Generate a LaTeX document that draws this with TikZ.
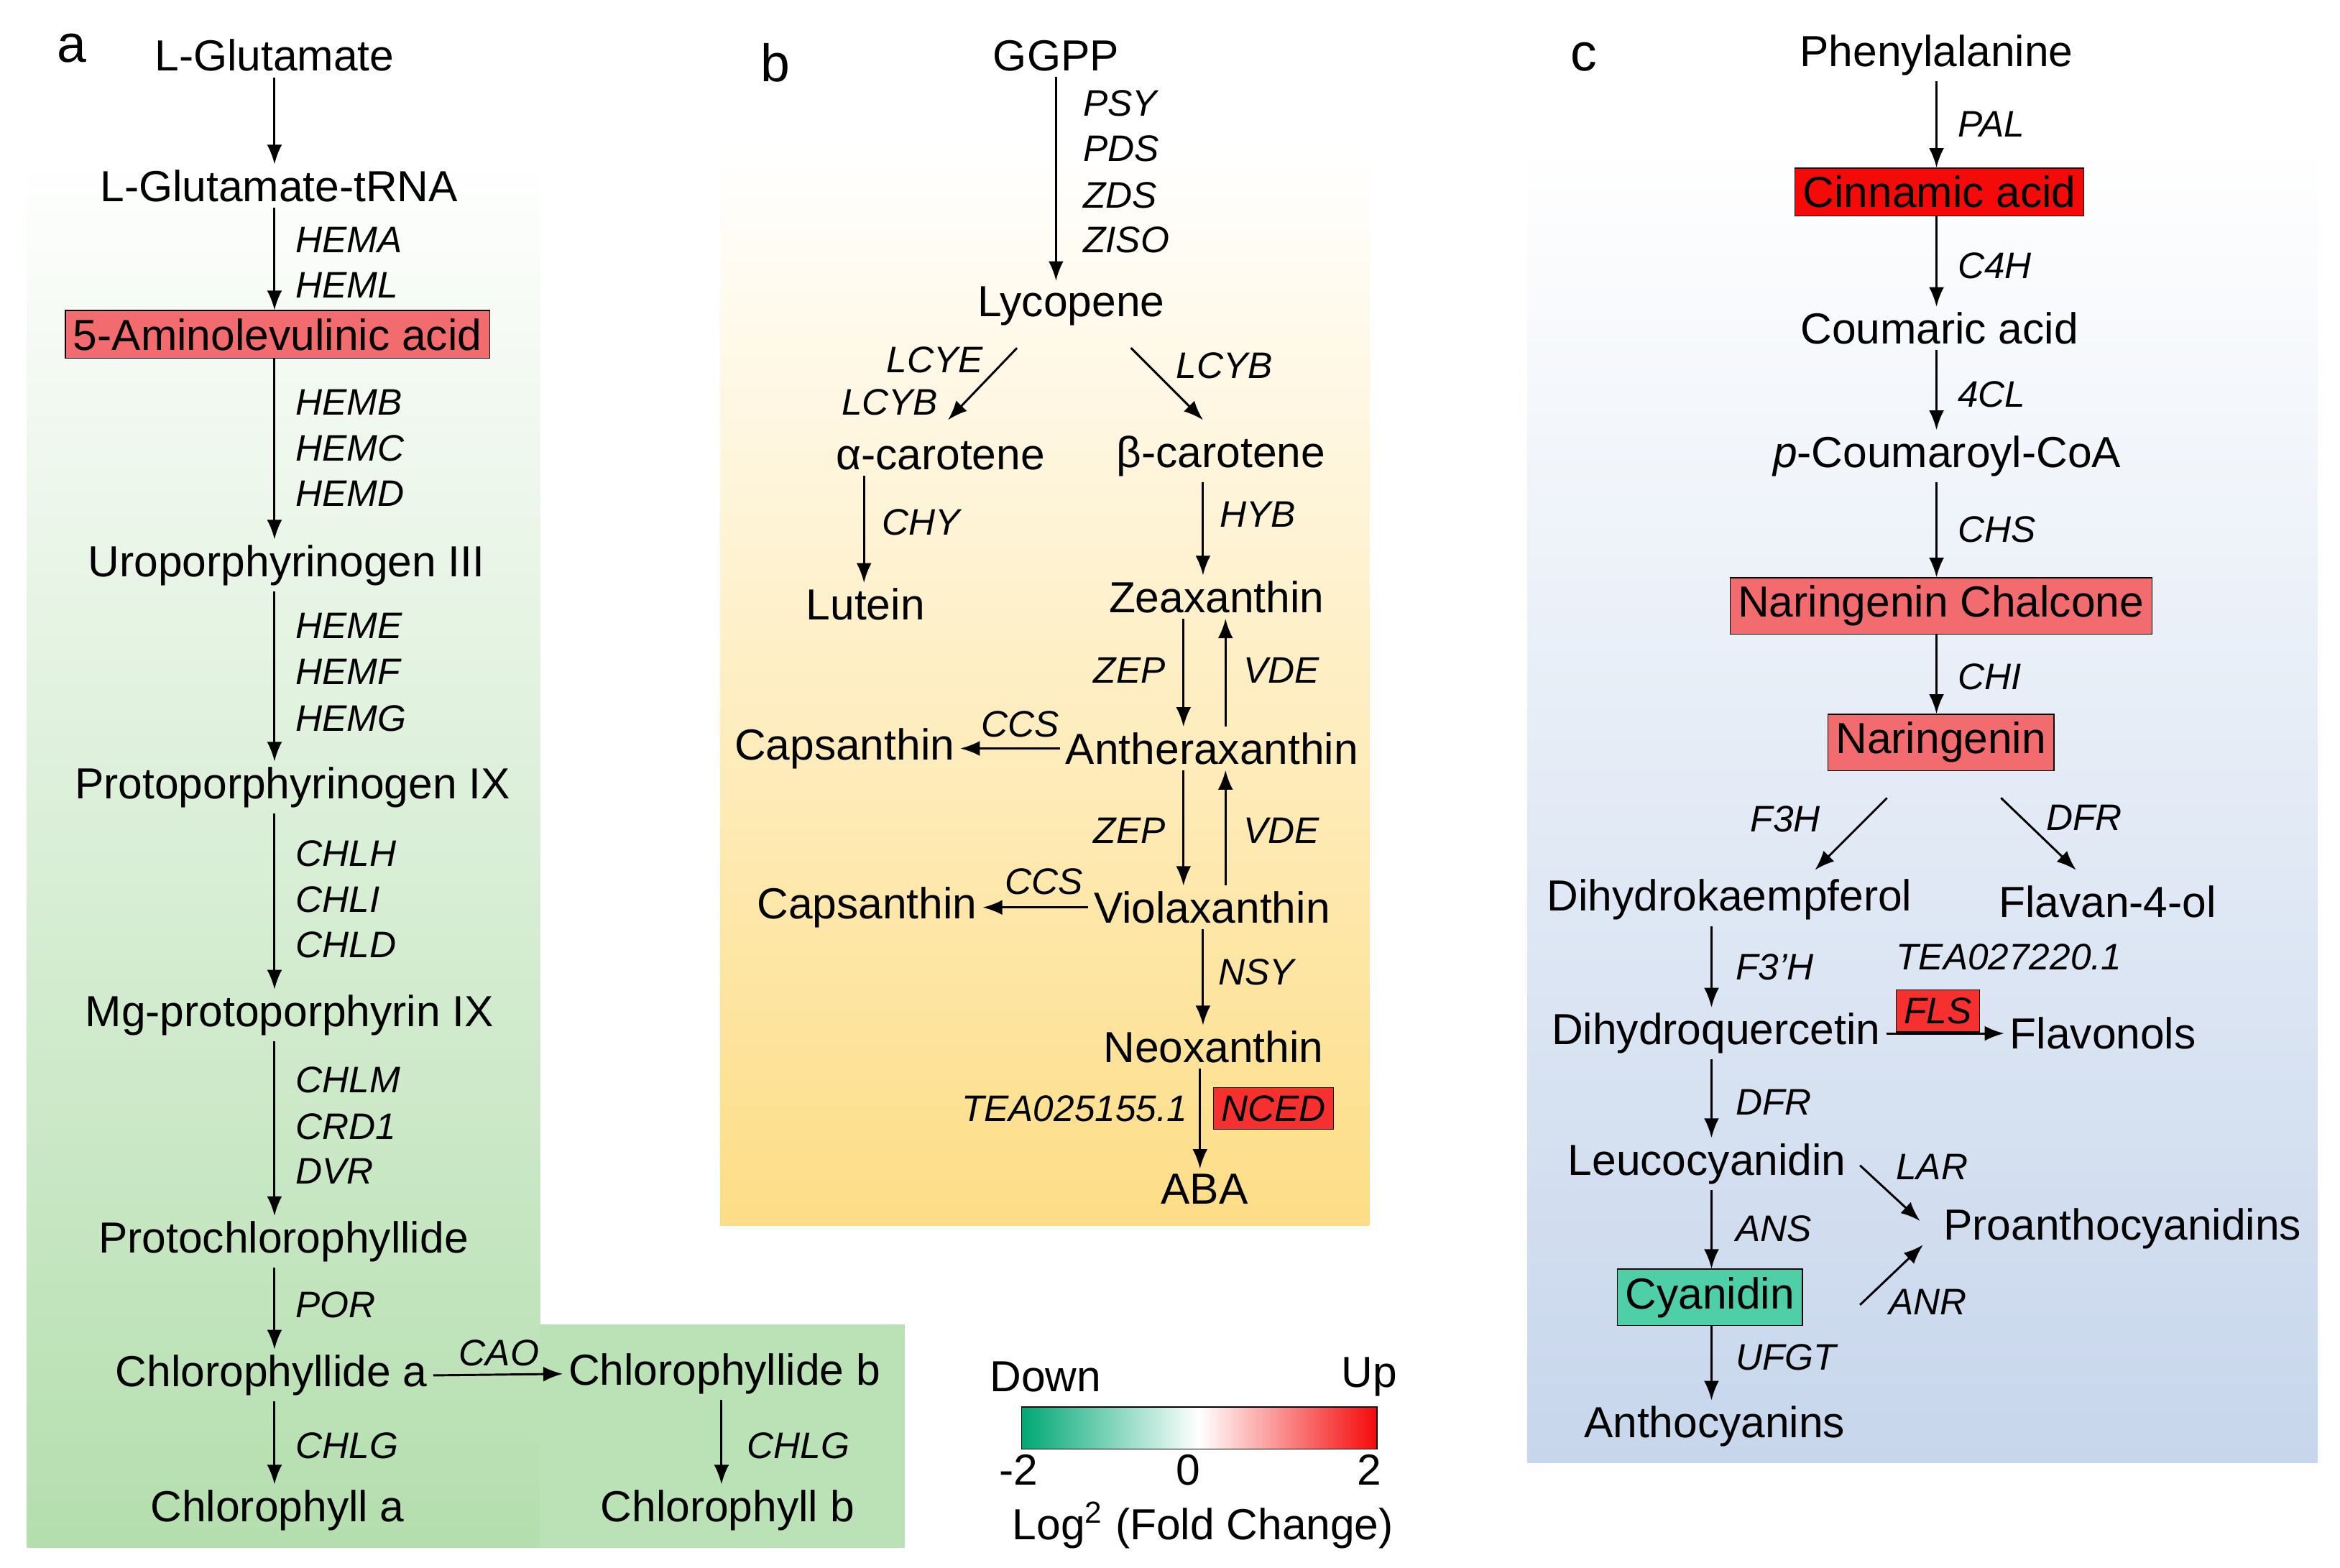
\documentclass[tikz,border=0pt]{standalone}
\usepackage{fontspec}
\setmainfont{Liberation Sans}
\usetikzlibrary{arrows.meta,positioning,calc}
\definecolor{upred}{HTML}{F26B6E}
\definecolor{hotred}{HTML}{F50A0A}
\definecolor{downgreen}{HTML}{00A874}
\definecolor{cyantile}{HTML}{4FCFA8}
\definecolor{leafgreen}{HTML}{B4DEAE}
\definecolor{sunny}{HTML}{FDDD86}
\definecolor{skyblue}{HTML}{C7D6EC}
\tikzset{
  main/.style={font=\fontsize{16.5}{18}\selectfont, inner sep=2pt},
  gene/.style={font=\fontsize{14}{16}\selectfont\itshape, inner sep=1pt, anchor=west},
  hit/.style={main, draw, fill=upred, inner sep=3pt},
  panel/.style={font=\fontsize{20}{22}\selectfont},
  arrow/.style={-{Latex[length=2.6mm,width=2mm]}, thick}
}
\begin{document}
\begin{tikzpicture}[x=0.02cm, y=-0.02cm]
\useasboundingbox (0,0) rectangle (1560,1045);

% backgrounds
\shade[top color=white, bottom color=leafgreen] (18,100) rectangle (360,1032);
\fill[leafgreen!90] (360,883) rectangle (603,1032);
\shade[top color=white, bottom color=sunny] (480,100) rectangle (913,817);
\shade[top color=white, bottom color=skyblue] (1018,95) rectangle (1545,975);

% colour bar
\shade[left color=downgreen, right color=hotred, middle color=white, shading=axis] (681,938) rectangle (918,966);
\draw (681,938) rectangle (918,966);
\node[main] (down) at (697,918) {Down};
\node[main] (up) at (913,918) {Up};
\node[main] (lo) at (679,980) {-2};
\node[main] (mid) at (792,980) {0};
\node[main] (hi) at (913,980) {2};
\node[main] (fold) at (802,1017) {Log\textsuperscript{2} (Fold Change)};

% panel a
\node[panel] (pa) at (48,32) {a};
\coordinate (colA) at (183,0);
\coordinate (colAb) at (481,0);
\node[main] (glu) at (183,37) {L-Glutamate};
\node[main] (trna) at (186,124) {L-Glutamate-tRNA};
\node[hit] (ala) at (185,223) {5-Aminolevulinic acid};
\node[main] (uro) at (191,377) {Uroporphyrinogen III};
\node[main] (proto) at (195,525) {Protoporphyrinogen IX};
\node[main] (mgp) at (193,677) {Mg-protoporphyrin IX};
\node[main] (pchl) at (189,828) {Protochlorophyllide};
\node[main] (chda) at (181,917) {Chlorophyllide a};
\node[main] (chdb) at (483,916) {Chlorophyllide b};
\node[main] (chla) at (185,1007) {Chlorophyll a};
\node[main] (chlb) at (485,1007) {Chlorophyll b};
\draw[arrow] (glu.south -| colA) -- (trna.north -| colA);
\draw[arrow] (trna.south -| colA) -- (ala.north -| colA);
\draw[arrow] (ala.south -| colA) -- (uro.north -| colA);
\draw[arrow] (uro.south -| colA) -- (proto.north -| colA);
\draw[arrow] (proto.south -| colA) -- (mgp.north -| colA);
\draw[arrow] (mgp.south -| colA) -- (pchl.north -| colA);
\draw[arrow] (pchl.south -| colA) -- (chda.north -| colA);
\draw[arrow] (chda.south -| colA) -- (chla.north -| colA);
\draw[arrow] (chdb.south -| colAb) -- (chlb.north -| colAb);
\draw[arrow] (chda.east) -- (chdb.west);
\node[gene] (hema) at (195,160) {HEMA};
\node[gene] (heml) at (195,190) {HEML};
\node[gene] (hemb) at (195,268) {HEMB};
\node[gene] (hemc) at (195,299) {HEMC};
\node[gene] (hemd) at (195,329) {HEMD};
\node[gene] (heme) at (195,417) {HEME};
\node[gene] (hemf) at (195,448) {HEMF};
\node[gene] (hemg) at (195,479) {HEMG};
\node[gene] (chlh) at (195,569) {CHLH};
\node[gene] (chli) at (195,600) {CHLI};
\node[gene] (chld) at (195,630) {CHLD};
\node[gene] (chlm) at (195,720) {CHLM};
\node[gene] (crd) at (195,751) {CRD1};
\node[gene] (dvr) at (195,781) {DVR};
\node[gene] (por) at (195,870) {POR};
\node[gene] (cao) at (304,902) {CAO};
\node[gene] (chlga) at (195,964) {CHLG};
\node[gene] (chlgb) at (496,964) {CHLG};

% panel b
\node[panel] (pb) at (517,42) {b};
\node[main] (ggpp) at (704,37) {GGPP};
\node[main] (lyc) at (714,204) {Lycopene};
\node[main] (acar) at (627,304) {α-carotene};
\node[main] (bcar) at (814,304) {β-carotene};
\node[main] (lut) at (577,403) {Lutein};
\node[main] (zea) at (811,398) {Zeaxanthin};
\node[main] (anth) at (808,499) {Antheraxanthin};
\node[main] (caps1) at (563,499) {Capsanthin};
\node[main] (viol) at (808,605) {Violaxanthin};
\node[main] (caps2) at (578,605) {Capsanthin};
\node[main] (neo) at (809,698) {Neoxanthin};
\node[main] (aba) at (803,793) {ABA};
\coordinate (colB) at (704,0);
\coordinate (colBa) at (576,0);
\coordinate (colBb) at (802,0);
\coordinate (zepB) at (789,0);
\coordinate (vdeB) at (817,0);
\coordinate (ncedB) at (800,0);
\coordinate (lycL) at (678,232);
\coordinate (acarT) at (632,280);
\coordinate (lycR) at (754,232);
\coordinate (bcarT) at (802,280);
\draw[arrow] (ggpp.south -| colB) -- (lyc.north -| colB);
\draw[arrow] (lycL) -- (acarT);
\draw[arrow] (lycR) -- (bcarT);
\draw[arrow] (acar.south -| colBa) -- (lut.north -| colBa);
\draw[arrow] (bcar.south -| colBb) -- (zea.north -| colBb);
\draw[arrow] (zea.south -| zepB) -- (anth.north -| zepB);
\draw[arrow] (anth.north -| vdeB) -- (zea.south -| vdeB);
\draw[arrow] (anth.west) -- (caps1.east);
\draw[arrow] (anth.south -| zepB) -- (viol.north -| zepB);
\draw[arrow] (viol.north -| vdeB) -- (anth.south -| vdeB);
\draw[arrow] (viol.west) -- (caps2.east);
\draw[arrow] (viol.south -| colBb) -- (neo.north -| colBb);
\draw[arrow] (neo.south -| ncedB) -- (aba.north -| ncedB);
\node[gene] (psy) at (720,69) {PSY};
\node[gene] (pds) at (720,99) {PDS};
\node[gene] (zds) at (720,130) {ZDS};
\node[gene] (ziso) at (720,160) {ZISO};
\node[gene] (lcye) at (589,240) {LCYE};
\node[gene] (lcyba) at (559,268) {LCYB};
\node[gene] (lcybb) at (782,244) {LCYB};
\node[gene] (chy) at (586,348) {CHY};
\node[gene] (hyb) at (811,343) {HYB};
\node[gene] (zep1) at (727,447) {ZEP};
\node[gene] (vde1) at (827,447) {VDE};
\node[gene] (ccs1) at (652,483) {CCS};
\node[gene] (zep2) at (727,554) {ZEP};
\node[gene] (vde2) at (827,554) {VDE};
\node[gene] (ccs2) at (668,588) {CCS};
\node[gene] (nsy) at (810,648) {NSY};
\node[gene] (tea1) at (639,739) {TEA025155.1};
\node[hit, font=\fontsize{14}{16}\selectfont\itshape, fill=hotred!85] (nced) at (849,739) {NCED};

% panel c
\node[panel] (pc) at (1056,38) {c};
\coordinate (colC) at (1291,0);
\coordinate (colCl) at (1141,0);
\node[main] (phe) at (1291,37) {Phenylalanine};
\node[hit, fill=hotred] (cin) at (1293,128) {Cinnamic acid};
\node[main] (cou) at (1293,219) {Coumaric acid};
\node[main] (pcoa) at (1298,304) {\textit{p}-Coumaroyl-CoA};
\node[hit] (chal) at (1294,404) {Naringenin Chalcone};
\node[hit] (nar) at (1294,495) {Naringenin};
\node[main] (dhk) at (1153,600) {Dihydrokaempferol};
\node[main] (flav) at (1405,601) {Flavan-4-ol};
\node[main] (dhq) at (1144,689) {Dihydroquercetin};
\node[main] (fln) at (1402,689) {Flavonols};
\node[main] (leu) at (1138,776) {Leucocyanidin};
\node[hit, fill=cyantile] (cya) at (1140,865) {Cyanidin};
\node[main] (ant) at (1143,951) {Anthocyanins};
\node[main] (pro) at (1415,819) {Proanthocyanidins};
\coordinate (narL) at (1258,532);
\coordinate (dhkT) at (1210,580);
\coordinate (narR) at (1334,532);
\coordinate (flavT) at (1384,580);
\coordinate (leuR) at (1240,777);
\coordinate (proA) at (1280,814);
\coordinate (cyaR) at (1240,870);
\coordinate (proB) at (1282,830);
\draw[arrow] (phe.south -| colC) -- (cin.north -| colC);
\draw[arrow] (cin.south -| colC) -- (cou.north -| colC);
\draw[arrow] (cou.south -| colC) -- (pcoa.north -| colC);
\draw[arrow] (pcoa.south -| colC) -- (chal.north -| colC);
\draw[arrow] (chal.south -| colC) -- (nar.north -| colC);
\draw[arrow] (narL) -- (dhkT);
\draw[arrow] (narR) -- (flavT);
\draw[arrow] (dhk.south -| colCl) -- (dhq.north -| colCl);
\draw[arrow] (dhq.east) -- (fln.west);
\draw[arrow] (dhq.south -| colCl) -- (leu.north -| colCl);
\draw[arrow] (leu.south -| colCl) -- (cya.north -| colCl);
\draw[arrow] (cya.south -| colCl) -- (ant.north -| colCl);
\draw[arrow] (leuR) -- (proA);
\draw[arrow] (cyaR) -- (proB);
\node[gene] (pal) at (1303,83) {PAL};
\node[gene] (c4h) at (1303,177) {C4H};
\node[gene] (fcl) at (1303,263) {4CL};
\node[gene] (chs) at (1303,353) {CHS};
\node[gene] (chi) at (1303,451) {CHI};
\node[gene] (f3h) at (1165,546) {F3H};
\node[gene] (dfr1) at (1362,545) {DFR};
\node[gene] (f3ph) at (1155,645) {F3'H};
\node[gene] (tea2) at (1262,638) {TEA027220.1};
\node[hit, font=\fontsize{14}{16}\selectfont\itshape, fill=hotred!85] (fls) at (1292,674) {FLS};
\node[gene] (dfr2) at (1155,735) {DFR};
\node[gene] (ans) at (1155,819) {ANS};
\node[gene] (ufgt) at (1155,905) {UFGT};
\node[gene] (lar) at (1262,778) {LAR};
\node[gene] (anr) at (1257,868) {ANR};
\end{tikzpicture}
\end{document}
